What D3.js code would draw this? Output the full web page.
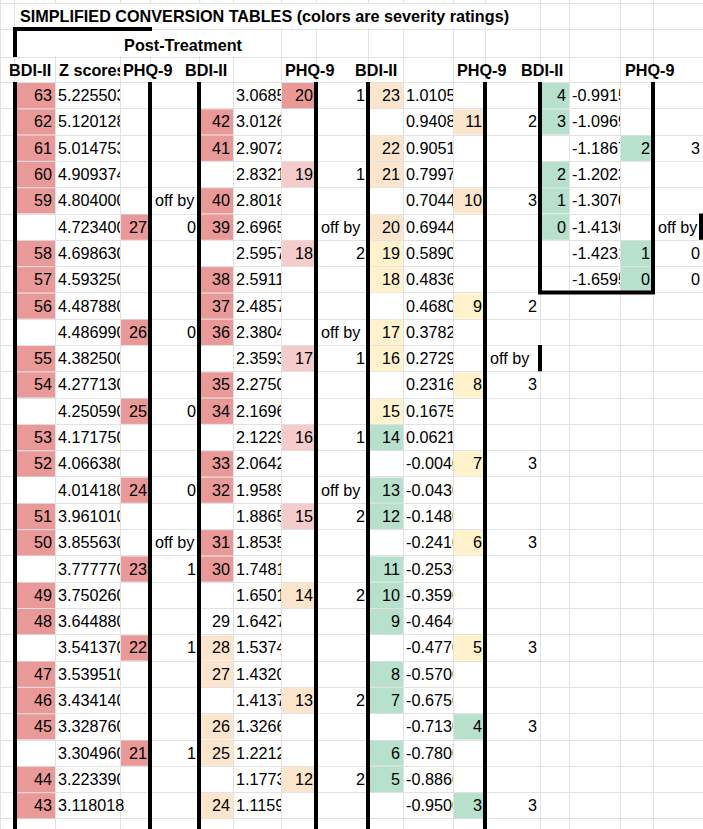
<!DOCTYPE html>
<html><head><meta charset="utf-8">
<script src="https://cdn.jsdelivr.net/npm/d3@7"></script>
<style>body{margin:0;background:#fff}svg{display:block}text{font-family:"Liberation Sans",Arial,sans-serif;font-size:16.2px;fill:#000}</style>
</head><body><svg id="c" width="703" height="829"></svg>
<script>
const title = "SIMPLIFIED CONVERSION TABLES (colors are severity ratings)";
const subTitle = "Post-Treatment";
const headers = [["BDI-II",0],["Z scores",2],["PHQ-9",3],["BDI-II",5],["PHQ-9",7],["BDI-II",9],["PHQ-9",11],["BDI-II",13],["PHQ-9",15]];
const _ = null;
// Table 1
const t1Bdi = [63,62,61,60,59,_,58,57,56,_,55,54,_,53,52,_,51,50,_,49,48,_,47,46,45,_,44,43];
const t1Z = ["5.225503","5.120128","5.014753","4.909374","4.804000","4.723400","4.698630","4.593250","4.487880","4.486990","4.382500","4.277130","4.250590","4.171750","4.066380","4.014180","3.961010","3.855630","3.777770","3.750260","3.644880","3.541370","3.539510","3.434140","3.328760","3.304960","3.223390","3.118018"];
const t1Phq = [_,_,_,_,_,27,_,_,_,26,_,_,25,_,_,24,_,_,23,_,_,22,_,_,_,21,_,_];
const t1Off = [_,_,_,_,"off by",0,_,_,_,0,_,_,0,_,_,0,_,"off by",1,_,_,1,_,_,_,1,_,_];
// Table 2
const t2Bdi = [_,42,41,_,40,39,_,38,37,36,_,35,34,_,33,32,_,31,30,_,29,28,27,_,26,25,_,24];
const t2Z = ["3.06853","3.01260","2.90723","2.83210","2.80185","2.69650","2.59570","2.59110","2.48573","2.38040","2.35930","2.27500","2.16960","2.12290","2.06420","1.95890","1.88650","1.85350","1.74810","1.65010","1.64270","1.53740","1.43200","1.41370","1.32660","1.22120","1.17730","1.11590"];
const t2Phq = [20,_,_,19,_,_,18,_,_,_,17,_,_,16,_,_,15,_,_,14,_,_,_,13,_,_,12,_];
const t2Off = [1,_,_,1,_,"off by",2,_,_,"off by",1,_,_,1,_,"off by",2,_,_,2,_,_,_,2,_,_,2,_];
// Table 3
const t3Bdi = [23,_,22,21,_,20,19,18,_,17,16,_,15,14,_,13,12,_,11,10,9,_,8,7,_,6,5,_];
const t3Z = ["1.01050","0.94080","0.90510","0.79970","0.70440","0.69440","0.58900","0.48360","0.46800","0.37820","0.27290","0.23160","0.16750","0.06210","-0.0040","-0.0430","-0.1480","-0.2410","-0.2530","-0.3590","-0.4640","-0.4770","-0.5700","-0.6750","-0.7130","-0.7800","-0.8860","-0.9500"];
const t3Phq = [_,11,_,_,10,_,_,_,9,_,_,8,_,_,7,_,_,6,_,_,_,5,_,_,4,_,_,3];
const t3Off = [_,2,_,_,3,_,_,_,2,_,"off by",3,_,_,3,_,_,3,_,_,_,3,_,_,3,_,_,3];
// Table 4
const t4Bdi = [4,3,_,2,1,0,_,_];
const t4Z = ["-0.9915","-1.0969","-1.1867","-1.2023","-1.3070","-1.4130","-1.4231","-1.6595"];
const t4Phq = [_,_,2,_,_,_,1,0];
const t4Off = [_,_,3,_,_,"off by",0,0];

const colW = [14,41,65,30,49,34,48,35,52,35,50,32,55,29,51,33,50];
const xs = [0]; colW.forEach(w=>xs.push(xs[xs.length-1]+w));
const nRows = 28, rowH = 26.3, top0 = 82;
const y = d3.scaleLinear().domain([0,nRows]).range([top0, top0+nRows*rowH]);
const bdiColor = d3.scaleThreshold().domain([15,20,29,30]).range(["#b7e1cd","#fff2cc","#fce5cd","none","#ea9999"]);
const phqColor = d3.scaleThreshold().domain([5,10,15,20]).range(["#b7e1cd","#fff2cc","#fce5cd","#f4cccc","#ea9999"]);

const svg = d3.select("#c");
const grid = svg.append("g").attr("stroke","#e2e2e2").attr("stroke-width",1);
const hLines = [3,29,57]; for(let i=0;i<=nRows+1;i++) hLines.push(y(i));
hLines.forEach(v=>grid.append("line").attr("x1",0).attr("x2",703).attr("y1",Math.round(v)+0.5).attr("y2",Math.round(v)+0.5));
xs.forEach(v=>grid.append("line").attr("x1",v+0.5).attr("x2",v+0.5).attr("y1",0).attr("y2",829));
svg.append("rect").attr("x",15).attr("y",4).attr("width",524).attr("height",24).attr("fill","#fff");
svg.append("rect").attr("x",15).attr("y",30).attr("width",265).attr("height",26).attr("fill","#fff");
svg.append("text").attr("x",20).attr("y",22).attr("font-weight","bold").text(title);
svg.append("text").attr("x",183).attr("y",51).attr("text-anchor","middle").attr("font-weight","bold").text(subTitle);

const defs = svg.append("defs");
function cell(col,row,val,{fill=null,clip=false,extra=0}={}){
  const x0=xs[col], w=colW[col], y0=y(row), h=rowH;
  if(fill && fill!=="none") svg.append("rect").attr("x",x0+1).attr("y",y0+1).attr("width",w-1).attr("height",h-1).attr("fill",fill);
  if(val===null) return;
  const t=svg.append("text").attr("y",y0+h/2+6).text(val);
  if(typeof val==="number") t.attr("x",x0+w-3).attr("text-anchor","end");
  else t.attr("x",x0+(clip?3:5));
  if(clip){
    const id=`cl${col}_${row}`;
    defs.append("clipPath").attr("id",id).append("rect").attr("x",x0).attr("y",y0).attr("width",w+extra).attr("height",h);
    t.attr("clip-path",`url(#${id})`);
  }
}
function table(c0,bdi,z,phq,off){
  bdi.forEach((v,i)=>cell(c0,i,v,{fill:v===null?null:bdiColor(v)}));
  z.forEach((v,i)=>cell(c0+1,i,v,{clip:true,extra:(phq[i]===null&&c0===1&&i===z.length-1)?20:0}));
  phq.forEach((v,i)=>cell(c0+2,i,v,{fill:v===null?null:phqColor(v)}));
  off.forEach((v,i)=>cell(c0+3,i,v));
}
table(1,t1Bdi,t1Z,t1Phq,t1Off);
table(5,t2Bdi,t2Z,t2Phq,t2Off);
table(9,t3Bdi,t3Z,t3Phq,t3Off);
table(13,t4Bdi,t4Z,t4Phq,t4Off);

const hdrX = [9,59,123,185,285,355,457,521,625];
headers.forEach(([t,c],i)=>{
  const id="hc"+i;
  defs.append("clipPath").attr("id",id).append("rect").attr("x",c===2?55:0).attr("y",57).attr("width",c===2?65:703).attr("height",25);
  svg.append("text").attr("x",hdrX[i]).attr("y",76).attr("font-weight","bold").attr("clip-path",`url(#${id})`).text(t);
});

const B = svg.append("g").attr("stroke","#000").attr("stroke-width",4).attr("fill","none");
const bottom = 829, t4Bottom = y(8);
[[13,29,152,29],[15,29,15,57],[15,82,15,bottom],[150,82,150,bottom],[199,82,199,bottom],[316,82,316,bottom],
 [368,82,368,bottom],[485,82,485,bottom],[540,82,540,t4Bottom],[540,y(10),540,y(11)],[653,82,653,t4Bottom],
 [538,t4Bottom,655,t4Bottom],[701,y(5),701,y(6)]].forEach(([a,b,c,d])=>
  B.append("line").attr("x1",a).attr("y1",b).attr("x2",c).attr("y2",d));
</script></body></html>
